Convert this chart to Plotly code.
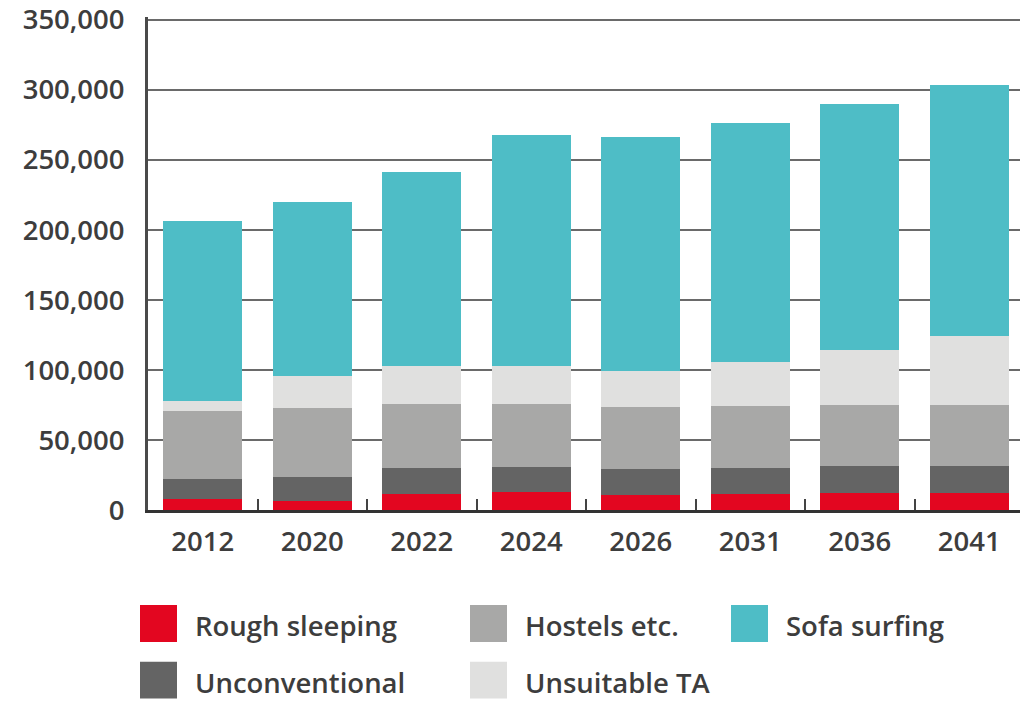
import plotly.graph_objects as go

# Households in each form of core homelessness (stacked), by year
years = ["2012", "2020", "2022", "2024", "2026", "2031", "2036", "2041"]
rough_sleeping = [8000, 6500, 11500, 13000, 10700, 11400, 12000, 12000]
unconventional = [14000, 17000, 18500, 17500, 18500, 18600, 19300, 19300]
hostels = [49000, 49500, 46000, 45500, 44000, 44000, 44000, 44000]
unsuitable_ta = [7000, 23000, 27000, 27000, 26000, 32000, 39000, 49000]
sofa_surfing = [128000, 124000, 138500, 164500, 167000, 170000, 175400, 179000]

series = [
    ("Rough sleeping", rough_sleeping, "#E30620"),
    ("Unconventional", unconventional, "#646464"),
    ("Hostels etc.", hostels, "#A8A8A7"),
    ("Unsuitable TA", unsuitable_ta, "#E0E0DF"),
    ("Sofa surfing", sofa_surfing, "#4EBDC6"),
]

y_ticks = [0, 50000, 100000, 150000, 200000, 250000, 300000, 350000]

FONT = "Open Sans"
WEIGHT = 600
SIZE = 27.5
TEXT = "#3d3d3d"

fig = go.Figure()
for name, vals, col in series:
    fig.add_trace(go.Bar(x=years, y=vals, name=name, marker=dict(color=col, line=dict(width=0)),
                         showlegend=False))

# plot area in pixels: x 148..1020; y axis 0 at 510.5, 350,000 at 18
W, H = 1020, 703
L, R, B = 148, 1020, 510.5
Y_MAX = 352000
T = B - Y_MAX * (B - 18) / 350000


def px(x):
    return (x - L) / (R - L)


def py(y):
    return (B - y) / (B - T)


# legend: coloured squares with labels, two rows
legend_items = [
    ("Rough sleeping", "#E30620", 140, 606),
    ("Hostels etc.", "#A8A8A7", 470, 606),
    ("Sofa surfing", "#4EBDC6", 731, 606),
    ("Unconventional", "#646464", 140, 663),
    ("Unsuitable TA", "#E0E0DF", 470, 663),
]
shapes = []
annotations = []
for label, col, x0, y0 in legend_items:
    shapes.append(dict(type="rect", xref="paper", yref="paper",
                       x0=px(x0), x1=px(x0 + 37), y0=py(y0 + 37), y1=py(y0),
                       fillcolor=col, line=dict(width=0)))
    annotations.append(dict(xref="paper", yref="paper", x=px(x0 + 53), y=py(y0 + 21),
                            text=label, showarrow=False, xanchor="left", yanchor="middle",
                            font=dict(family=FONT, size=SIZE, color=TEXT, weight=WEIGHT)))

fig.update_layout(
    width=W, height=H,
    margin=dict(l=L, r=W - R, t=T, b=H - B),
    paper_bgcolor="white", plot_bgcolor="white",
    barmode="stack", bargap=0.28,
    font=dict(family=FONT, color=TEXT, size=SIZE, weight=WEIGHT),
    shapes=shapes, annotations=annotations,
    xaxis=dict(
        type="category", range=[-0.5, 7.463],
        tickson="boundaries", ticks="inside", ticklen=11, tickwidth=2, tickcolor="#444",
        showline=True, linecolor="#333", linewidth=3,
        tickfont=dict(family=FONT, size=SIZE, color=TEXT, weight=WEIGHT),
        ticklabelstandoff=5,
        showgrid=False,
    ),
    yaxis=dict(
        range=[0, Y_MAX], tickvals=y_ticks, tickformat=",",
        showline=True, linecolor="#4a4a4a", linewidth=3,
        showgrid=True, gridcolor="#6a6a6a", gridwidth=2,
        zeroline=False, ticks="",
        tickfont=dict(family=FONT, size=SIZE, color=TEXT, weight=WEIGHT),
        ticklabelstandoff=15, ticklabeloverflow="allow",
    ),
)

fig.write_html("out.html")
